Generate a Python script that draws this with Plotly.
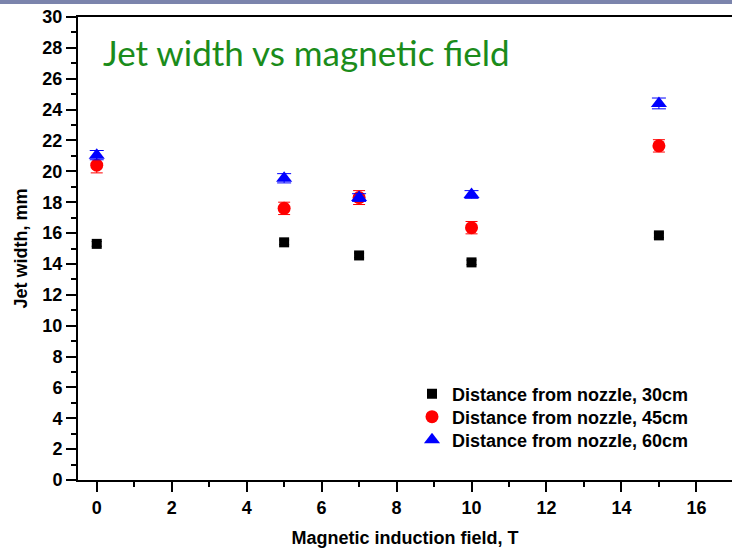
import plotly.graph_objects as go

# Magnetic induction field, T
field = [0, 5, 7, 10, 15]

# Jet width, mm, at three distances from the nozzle
width_30 = [15.3, 15.4, 14.55, 14.1, 15.85]
width_45 = [20.4, 17.6, 18.3, 16.35, 21.65]
width_60 = [21.05, 19.55, 18.3, 18.5, 24.4]

err_30 = [0.15, 0.15, 0.15, 0.15, 0.15]
err_45 = [0.5, 0.4, 0.45, 0.4, 0.4]
err_60 = [0.3, 0.3, 0.25, 0.25, 0.35]

names = ["Distance from nozzle, 30cm", "Distance from nozzle, 45cm", "Distance from nozzle, 60cm"]

x_ticks = list(range(0, 17, 2))
y_ticks = list(range(0, 31, 2))

bold = "Liberation Sans"

fig = go.Figure()
fig.add_trace(go.Scatter(
    x=field, y=width_30, mode="markers", name=f"<b>{names[0]}</b>", legend="legend",
    marker=dict(symbol="square", size=10, color="black"),
    error_y=dict(type="data", array=err_30, color="black", thickness=1, width=5),
))
fig.add_trace(go.Scatter(
    x=field, y=width_45, mode="markers", name=f"<b>{names[1]}</b>", legend="legend2",
    marker=dict(symbol="circle", size=13, color="#ff0000"),
    error_y=dict(type="data", array=err_45, color="#ff0000", thickness=1, width=6),
))
fig.add_trace(go.Scatter(
    x=field, y=width_60, mode="markers", name=f"<b>{names[2]}</b>", legend="legend3",
    marker=dict(symbol="triangle-up", size=14, color="#0000ff"),
    error_y=dict(type="data", array=err_60, color="#0000ff", thickness=1, width=7),
))


def legend_box(row_px):
    # one legend entry per row, placed by its pixel row inside the plot area
    return dict(
        x=(412 - 78) / 654, y=(480 - row_px) / 463, xanchor="left", yanchor="middle",
        font=dict(family=bold, size=18, color="black"),
        bgcolor="rgba(0,0,0,0)", itemwidth=30,
    )


fig.update_layout(
    width=732, height=548,
    margin=dict(l=78, r=0, t=17, b=68),
    paper_bgcolor="white", plot_bgcolor="white",
    font=dict(family=bold, size=18, color="black"),
    showlegend=True,
    legend=legend_box(394),
    legend2=legend_box(417),
    legend3=legend_box(440),
    xaxis=dict(
        range=[-0.5, 16.95], tickmode="array", tickvals=x_ticks,
        ticktext=[f"<b>{v}</b>" for v in x_ticks],
        ticks="outside", ticklen=10, tickwidth=1.5, tickcolor="black",
        minor=dict(dtick=1, tick0=0, ticks="outside", ticklen=5, tickwidth=1.5, tickcolor="black"),
        showline=True, linecolor="black", linewidth=2, mirror=True,
        showgrid=False, zeroline=False,
        tickfont=dict(family=bold, size=18, color="black"),
        title=dict(text="<b>Magnetic induction field, T</b>", font=dict(family=bold, size=18), standoff=15),
    ),
    yaxis=dict(
        range=[0, 30], tickmode="array", tickvals=y_ticks,
        ticktext=[f"<b>{v}</b>" for v in y_ticks],
        ticks="outside", ticklen=10, tickwidth=1.5, tickcolor="black",
        minor=dict(dtick=1, tick0=0, ticks="outside", ticklen=5, tickwidth=1.5, tickcolor="black"),
        showline=True, linecolor="black", linewidth=2, mirror=False,
        showgrid=False, zeroline=False,
        tickfont=dict(family=bold, size=18, color="black"),
        title=dict(text="<b>Jet width, mm</b>", font=dict(family=bold, size=18), standoff=10),
    ),
)

# Chart heading
fig.add_annotation(
    text="Jet width vs magnetic field", xref="paper", yref="paper",
    x=(101 - 78) / 654, y=(480 - 29) / 463, xanchor="left", yanchor="top",
    showarrow=False, font=dict(family="Lato", size=35, color="#1b8c1b"),
)

# Slide header band along the top edge
fig.add_shape(
    type="rect", xref="paper", yref="paper",
    x0=-78 / 654, x1=1.0, y0=1 + 13 / 463, y1=1 + 17 / 463,
    fillcolor="#7b84ac", line=dict(width=0), layer="above",
)

fig.write_html("out.html")
